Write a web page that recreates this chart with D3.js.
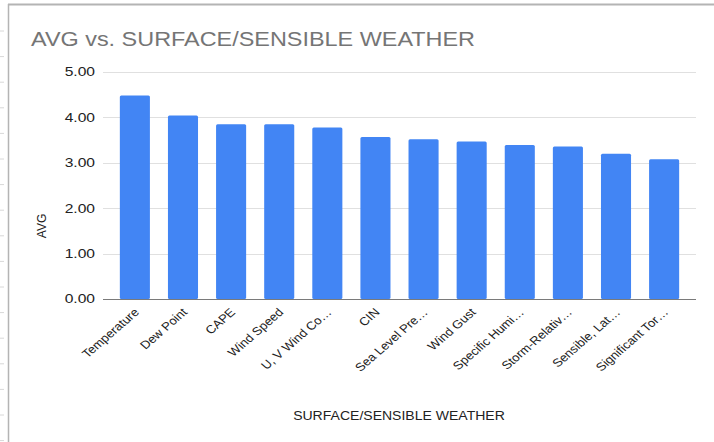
<!DOCTYPE html>
<html lang="en">
<head>
    <meta charset="UTF-8">
    <title>AVG vs. SURFACE/SENSIBLE WEATHER</title>
    <script src="https://d3js.org/d3.v7.min.js"></script>
    <style>
        body {
            margin: 0;
            background: #fff;
        }

        text {
            font-family: "Liberation Sans", Arial, sans-serif;
        }

        .grid line {
            stroke: #e0e0e0;
            stroke-width: 1px;
        }
    </style>
</head>
<body>
<script>
    // categories (labels as truncated in the chart) and their averages
    const categories = ['Temperature', 'Dew Point', 'CAPE', 'Wind Speed', 'U, V Wind Co\u2026', 'CIN',
        'Sea Level Pre\u2026', 'Wind Gust', 'Specific Humi\u2026', 'Storm-Relativ\u2026', 'Sensible, Lat\u2026',
        'Significant Tor\u2026'];
    const avgValues = [4.48, 4.04, 3.85, 3.85, 3.78, 3.57, 3.52, 3.47, 3.39, 3.36, 3.20, 3.08];
    const yTicks = [0, 1, 2, 3, 4, 5];

    const width = 714;
    const height = 442;
    // the picture is a bit wider than tall, text looks stretched sideways
    const stretch = 1.15;

    const svg = d3.select("body").append("svg").attr("width", width).attr("height", height);

    // sheet frame (top and left border) plus row ticks on the far left
    svg.append("g")
        .selectAll("line")
        .data(d3.range(31, height, 25.6))
        .enter()
        .append("line")
        .attr("x1", 0).attr("x2", 4)
        .attr("y1", d => d).attr("y2", d => d)
        .attr("stroke", "#d8d8d8");
    svg.append("line")
        .attr("x1", 8).attr("x2", width).attr("y1", 4.5).attr("y2", 4.5)
        .attr("stroke", "#b4b4b4").attr("stroke-width", 2);
    svg.append("line")
        .attr("x1", 8.5).attr("x2", 8.5).attr("y1", 4).attr("y2", height)
        .attr("stroke", "#b4b4b4").attr("stroke-width", 1.5);

    // scales
    const x = d3.scaleBand()
        .domain(categories)
        .range([103, 696])
        .paddingInner(0.375)
        .paddingOuter(0.35);

    const y = d3.scaleLinear()
        .domain([0, 5])
        .range([299, 72]);

    // title
    svg.append("text")
        .attr("transform", "translate(31,46) scale(1.115,1)")
        .attr("font-size", "21px")
        .attr("fill", "#757575")
        .text("AVG vs. SURFACE/SENSIBLE WEATHER");

    // gridlines
    svg.append("g")
        .attr("class", "grid")
        .selectAll("line")
        .data(yTicks.filter(d => d > 0))
        .enter()
        .append("line")
        .attr("x1", 103).attr("x2", 696)
        .attr("y1", d => Math.round(y(d)) + 0.5)
        .attr("y2", d => Math.round(y(d)) + 0.5);

    // y axis labels
    const yAxis = svg.append("g")
        .attr("transform", "translate(95,0)")
        .call(d3.axisLeft(y).tickValues(yTicks).tickFormat(d3.format(".2f")).tickSize(0).tickPadding(0));
    yAxis.select(".domain").remove();
    yAxis.selectAll("text")
        .attr("font-size", "12px")
        .attr("fill", "#222")
        .attr("transform", "scale(1.3,1)")
        .style("font-family", "'Liberation Sans', Arial, sans-serif");

    // bars
    svg.append("g")
        .selectAll("rect")
        .data(avgValues)
        .enter()
        .append("rect")
        .attr("x", (d, i) => x(categories[i]))
        .attr("y", d => y(d))
        .attr("width", x.bandwidth())
        .attr("height", d => y(0) - y(d))
        .attr("rx", 1.5)
        .attr("fill", "#4285f4");

    // baseline
    svg.append("line")
        .attr("x1", 103).attr("x2", 696)
        .attr("y1", Math.round(y(0)) + 0.5).attr("y2", Math.round(y(0)) + 0.5)
        .attr("stroke", "#7a7a7a").attr("stroke-width", 1.2);

    // x axis labels, rotated
    const xAxis = svg.append("g")
        .attr("transform", "translate(0," + y(0) + ")")
        .call(d3.axisBottom(x).tickSize(0).tickPadding(0));
    xAxis.select(".domain").remove();
    xAxis.selectAll("text")
        .attr("font-size", "11.5px")
        .attr("fill", "#222")
        .style("font-family", "'Liberation Sans', Arial, sans-serif")
        .attr("text-anchor", "end")
        .attr("dy", null)
        .attr("y", null)
        .attr("transform", "translate(5,14) scale(" + stretch + ",1) rotate(-45)");

    // axis titles
    svg.append("text")
        .attr("transform", "translate(399,420) scale(1.08,1)")
        .attr("text-anchor", "middle")
        .attr("font-size", "13px")
        .attr("fill", "#222")
        .text("SURFACE/SENSIBLE WEATHER");

    svg.append("text")
        .attr("transform", "translate(45.5,226) rotate(-90)")
        .attr("text-anchor", "middle")
        .attr("font-size", "12px")
        .attr("fill", "#222")
        .text("AVG");
</script>
</body>
</html>
